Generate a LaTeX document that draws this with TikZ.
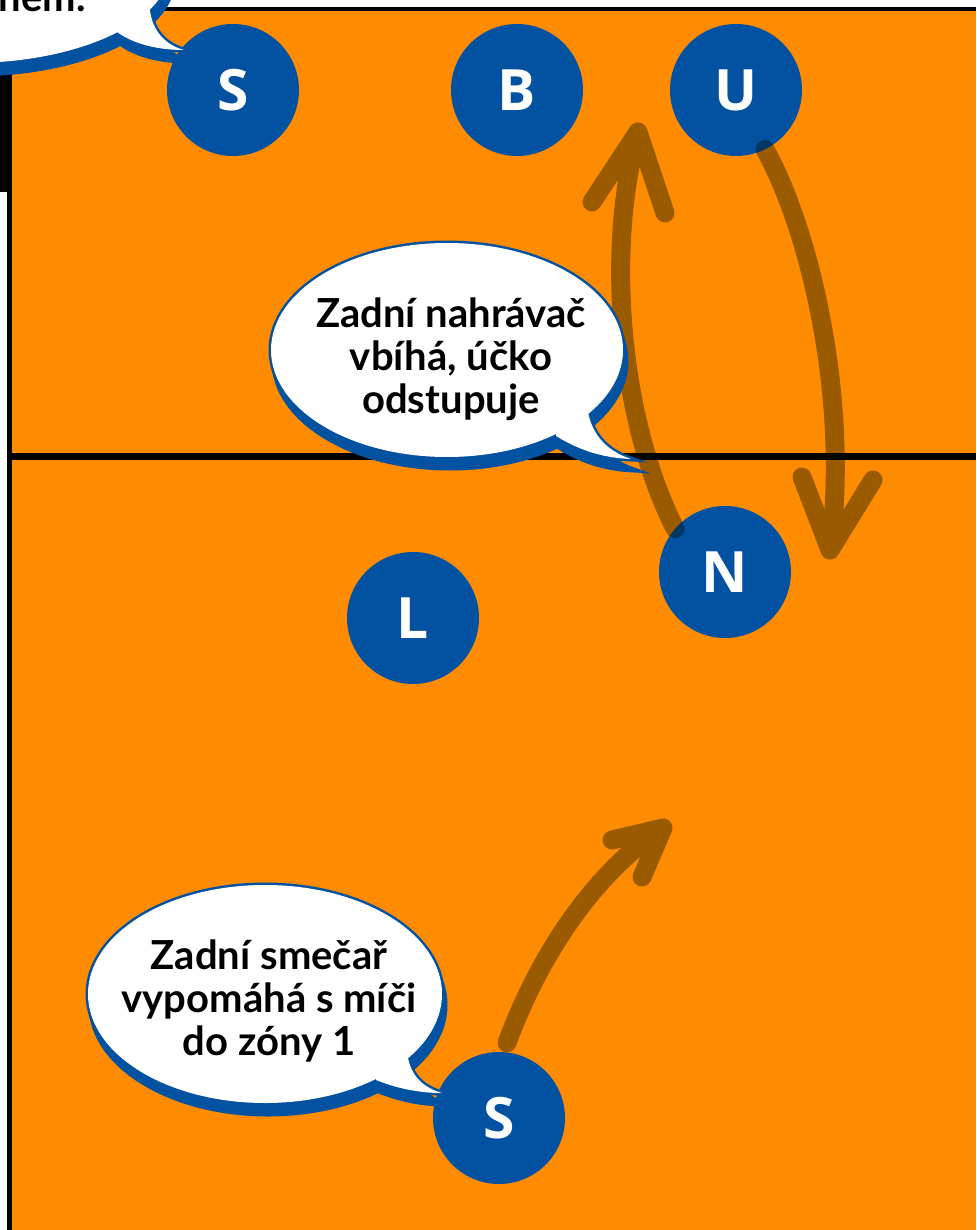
\documentclass[tikz,border=0pt]{standalone}
\usepackage{fontspec}
\setmainfont{Lato}
\newfontfamily\letterfont{Open Sans}
\usetikzlibrary{calc}
\definecolor{court}{RGB}{255,140,0}
\definecolor{pblue}{RGB}{3,82,162}
\definecolor{arr}{RGB}{0,15,0}
\begin{document}
\begin{tikzpicture}[x=1pt,y=-1pt,
  player/.style={circle, fill=pblue, minimum size=132pt, inner sep=0pt, text=white,
    font=\letterfont\bfseries\fontsize{57}{57}\selectfont},
  move/.style={draw=arr, draw opacity=0.4, line width=19pt, line cap=round, line join=round},
  btext/.style={align=center, inner sep=0pt, text=black, font=\bfseries\fontsize{40}{43}\selectfont},
  bborder/.style={draw=pblue, line width=5pt},
  midshape/.style={insert path={(447,350) ellipse [x radius=176, y radius=107]
     (560,400) -- (588,412) .. controls (593,438) and (610,452) .. (631,459)
     .. controls (606,458) and (582,452) .. (556,436) -- cycle}},
  botshape/.style={insert path={(265,994) ellipse [x radius=177, y radius=109]
     (390,1040) -- (408,1058) .. controls (412,1078) and (425,1088) .. (442,1093)
     .. controls (418,1093) and (396,1088) .. (376,1080) -- cycle}},
  topshape/.style={insert path={(-30,-32) ellipse [x radius=200, y radius=95]
     (110,0) -- (150,10) .. controls (152,30) and (165,45) .. (184,50)
     .. controls (160,50) and (135,45) .. (117,32) -- cycle}}
]
\useasboundingbox (0,0) rectangle (976,1230);
\clip (0,0) rectangle (976,1230);
% court
\fill[white] (0,0) rectangle (976,1230);
\fill[court] (12,11) rectangle (976,1230);
\fill[black] (7,7) rectangle (976,11);
\fill[black] (7,7) rectangle (12,1230);
\fill[black] (0,0) rectangle (12,192);
\fill[black] (7,453) rectangle (976,460);
% players
\node[player] (S1) at (233,90) {S};
\node[player] (B) at (517,90) {B};
\node[player] (U) at (736,90) {U};
\node[player] (N) at (725,572) {N};
\node[player] (L) at (413,618) {L};
\node[player] (S2) at (499,1118) {S};
% movement arrows
\coordinate (t1) at (638,132);
\coordinate (h1a) at (592,202);
\coordinate (h1b) at (665,213);
\path[move] (N.139) .. controls (620,420) and (605,250) .. (t1) (h1a) -- (t1) -- (h1b);
\coordinate (t2) at (830,550);
\coordinate (h2a) at (802,477);
\coordinate (h2b) at (873,480);
\path[move] (U.296) .. controls (810,230) and (850,400) .. (t2) (h2a) -- (t2) -- (h2b);
\coordinate (s3) at ($(S2.north)+(8,-9)$);
\coordinate (t3) at (663,828);
\coordinate (h3a) at (612,840);
\coordinate (h3b) at (642,877);
\path[move] (s3) .. controls (545,940) and (605,865) .. (t3) (h3a) -- (t3) -- (h3b);
% speech bubbles: shadow, border, fill
\begin{scope}[shift={(3,11)}]
  \fill[pblue, bborder, midshape];
  \fill[pblue, bborder, botshape];
  \fill[pblue, bborder, topshape];
\end{scope}
\path[bborder, midshape];
\path[bborder, botshape];
\path[bborder, topshape];
\fill[white, midshape];
\fill[white, botshape];
\fill[white, topshape];
\node[btext] (tmid) at (451,359) {Zadní nahrávač\\vbíhá, účko\\odstupuje};
\node[btext] (tbot) at (269,1001) {Zadní smečař\\vypomáhá s míči\\do zóny 1};
\node[btext, anchor=base east] (ttop) at (86,12) {onem.};
\end{tikzpicture}
\end{document}
